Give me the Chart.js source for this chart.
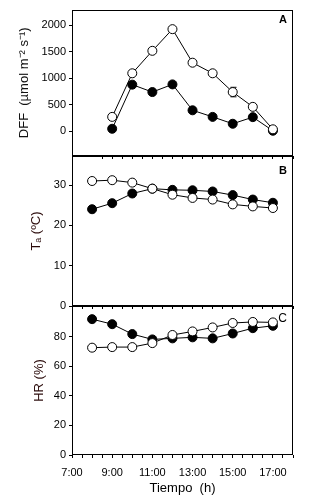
<!DOCTYPE html>
<html>
<head>
<meta charset="utf-8">
<script src="https://cdn.jsdelivr.net/npm/chart.js@4.4.1/dist/chart.umd.min.js"></script>
<style>
  body { margin: 0; background: #fff; }
  #wrap { position: relative; width: 325px; height: 500px; }
  #wrap canvas { position: absolute; left: 0; top: 0; }
</style>
</head>
<body>
<div id="wrap">
  <canvas id="panelA" width="325" height="500"></canvas>
  <canvas id="panelB" width="325" height="500"></canvas>
  <canvas id="panelC" width="325" height="500"></canvas>
</div>
<script>
// hours of the day
const hoursA = [9, 10, 11, 12, 13, 14, 15, 16, 17];
const hoursBC = [8, 9, 10, 11, 12, 13, 14, 15, 16, 17];

// A: DFF (umol m-2 s-1)
const dffOpen = [270, 1095, 1520, 1930, 1295, 1095, 740, 460, 35];
const dffOpenErr = [0, 0, 0, 0, 0, 0, 90, 0, 0];
const dffFilled = [45, 880, 740, 885, 395, 270, 140, 265, 8];

// B: Ta (C)
const taOpen = [31.0, 31.2, 30.6, 29.1, 27.6, 26.8, 26.4, 25.2, 24.7, 24.3];
const taOpenErr = [0, 0, 0, 0, 0.8, 0, 0, 0, 0, 0];
const taFilled = [24.0, 25.5, 27.9, 29.1, 28.8, 28.7, 28.4, 27.5, 26.4, 25.6];

// C: HR (%)
const hrOpen = [72.6, 73.0, 73.0, 75.7, 81.2, 83.6, 86.3, 89.3, 90.0, 89.7];
const hrOpenErr = [2, 0, 0, 0, 1, 0, 0, 0, 0, 0];
const hrFilled = [91.9, 88.5, 81.8, 78.2, 78.9, 79.6, 78.9, 82.2, 85.8, 87.4];
const hrFilledErr = [0, 0, 1.5, 0, 0, 0, 0, 0, 0, 0];

const ticksA = [0, 500, 1000, 1500, 2000];
const ticksB = [0, 10, 20, 30];
const ticksC = [0, 20, 40, 60, 80];

const FONT = "'Liberation Sans', Arial, sans-serif";

function pts(xs, ys) {
  return xs.map((x, i) => ({ x: x, y: ys[i] }));
}

// little vertical error bars, drawn under the markers
const errorBars = {
  id: 'errorBars',
  beforeDatasetsDraw(chart) {
    const ctx = chart.ctx;
    const xs = chart.scales.x, ys = chart.scales.y;
    ctx.save();
    ctx.strokeStyle = '#000';
    ctx.lineWidth = 1;
    chart.data.datasets.forEach(ds => {
      if (!ds.errors) return;
      ds.data.forEach((p, i) => {
        const e = ds.errors[i];
        if (!e) return;
        const px = Math.round(xs.getPixelForValue(p.x)) + 0.5;
        const y1 = ys.getPixelForValue(p.y + e);
        const y2 = ys.getPixelForValue(p.y - e);
        ctx.beginPath();
        ctx.moveTo(px, y1); ctx.lineTo(px, y2);
        ctx.moveTo(px - 3, y1); ctx.lineTo(px + 3, y1);
        ctx.moveTo(px - 3, y2); ctx.lineTo(px + 3, y2);
        ctx.stroke();
      });
    });
    ctx.restore();
  }
};

// frame round the plot area and the panel letter
const frame = {
  id: 'frame',
  afterDraw(chart, args, opts) {
    const a = chart.chartArea;
    const ctx = chart.ctx;
    ctx.save();
    ctx.strokeStyle = '#000';
    ctx.lineWidth = 1;
    ctx.strokeRect(Math.round(a.left) + 0.5, Math.round(a.top) + 0.5,
      Math.round(a.right - a.left) - 1, Math.round(a.bottom - a.top) - 1);
    ctx.fillStyle = '#000';
    ctx.font = opts.bold ? 'bold 11px ' + FONT : '12px ' + FONT;
    ctx.textAlign = 'right';
    ctx.textBaseline = 'middle';
    ctx.fillText(opts.letter, a.right - 6, a.top + opts.dy);
    ctx.restore();
  }
};

function makePanel(id, cfg) {
  const openSet = {
    data: pts(cfg.xs, cfg.open),
    errors: cfg.openErr,
    borderColor: '#000',
    borderWidth: 1,
    pointBackgroundColor: '#fff',
    pointBorderColor: '#000',
    pointBorderWidth: 1,
    pointRadius: 4.5,
    pointHoverRadius: 4.5
  };
  const filledSet = {
    data: pts(cfg.xs, cfg.filled),
    errors: cfg.filledErr,
    borderColor: '#000',
    borderWidth: 1,
    pointBackgroundColor: '#000',
    pointBorderColor: '#000',
    pointBorderWidth: 1,
    pointRadius: 4.5,
    pointHoverRadius: 4.5
  };
  return new Chart(document.getElementById(id), {
    type: 'line',
    data: { datasets: [openSet, filledSet] },
    plugins: [errorBars, frame],
    options: {
      responsive: false,
      animation: false,
      events: [],
      layout: { padding: { top: cfg.top, right: 32, left: 0, bottom: 0 } },
      plugins: {
        legend: { display: false },
        tooltip: { enabled: false },
        frame: { letter: cfg.letter, bold: cfg.bold, dy: cfg.letterDy }
      },
      scales: {
        x: {
          type: 'linear',
          min: 7,
          max: 18,
          afterBuildTicks(scale) {
            const t = [];
            for (let v = 7; v <= 18; v += 0.5) t.push({ value: v });
            scale.ticks = t;
          },
          afterFit(scale) { scale.height = 500 - cfg.bottom; },
          grid: {
            display: true,
            drawOnChartArea: false,
            drawTicks: true,
            tickLength: 3,
            color: ctx => (ctx.tick && ctx.tick.value < cfg.xTickFrom) ? 'rgba(0,0,0,0)' : '#000'
          },
          border: { display: false },
          ticks: {
            display: cfg.showX,
            maxRotation: 0,
            autoSkip: false,
            padding: 8,
            color: '#000',
            font: { family: FONT, size: 11 },
            callback: v => (v % 2 === 1) ? v + ':00' : ''
          },
          title: {
            display: cfg.showX,
            text: 'Tiempo  (h)',
            color: '#000',
            font: { family: FONT, size: 13 },
            padding: { top: 4, bottom: 4 }
          }
        },
        y: {
          min: cfg.min,
          max: cfg.max,
          afterBuildTicks(scale) { scale.ticks = cfg.ticks.map(v => ({ value: v })); },
          afterFit(scale) { scale.width = 72; },
          grid: {
            display: true,
            drawOnChartArea: false,
            drawTicks: true,
            tickLength: 3,
            color: '#000'
          },
          border: { display: false },
          ticks: {
            padding: 3,
            color: '#000',
            font: { family: FONT, size: 11 },
            callback: v => String(v)
          },
          title: {
            display: true,
            text: cfg.title,
            color: cfg.titleColor,
            font: { family: FONT, size: 13 },
            padding: { top: cfg.titlePad, bottom: 0 }
          }
        }
      }
    }
  });
}

makePanel('panelA', {
  xs: hoursA, open: dffOpen, openErr: dffOpenErr, filled: dffFilled, filledErr: null,
  min: -470, max: 2300, ticks: ticksA, top: 8, bottom: 156,
  title: 'DFF  (\u00b5mol m\u207b\u00b2 s\u207b\u00b9)', titleColor: '#111', titlePad: 17,
  letter: 'A', bold: true, letterDy: 10, showX: false, xTickFrom: 8.5
});

makePanel('panelB', {
  xs: hoursBC, open: taOpen, openErr: taOpenErr, filled: taFilled, filledErr: null,
  min: 0, max: 37.2, ticks: ticksB, top: 156, bottom: 306,
  title: 'T\u2090 (\u00baC)', titleColor: '#2a0a0a', titlePad: 29,
  letter: 'B', bold: true, letterDy: 15, showX: false, xTickFrom: 7
});

makePanel('panelC', {
  xs: hoursBC, open: hrOpen, openErr: hrOpenErr, filled: hrFilled, filledErr: hrFilledErr,
  min: 0, max: 100.8, ticks: ticksC, top: 306, bottom: 455,
  title: 'HR (%)', titleColor: '#2a0a0a', titlePad: 32,
  letter: 'C', bold: false, letterDy: 13, showX: true, xTickFrom: 7
});
</script>
</body>
</html>
